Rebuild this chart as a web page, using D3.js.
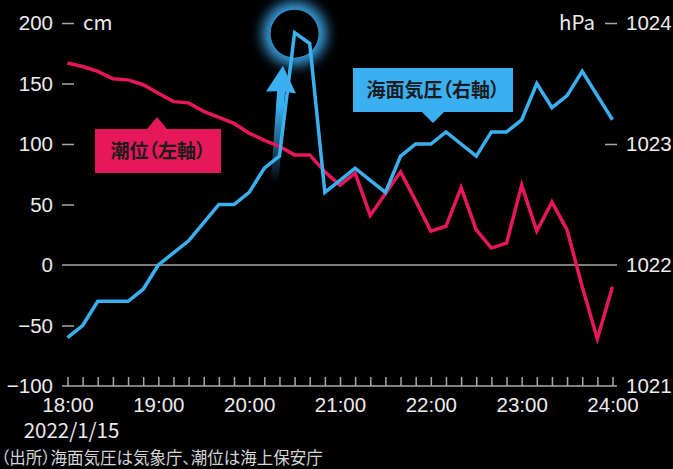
<!DOCTYPE html>
<html>
<head>
<meta charset="utf-8">
<script src="https://cdn.jsdelivr.net/npm/d3@7"></script>
<style>
  html, body { margin: 0; padding: 0; background: #000; }
  svg { display: block; font-family: "Noto Sans CJK JP", "Noto Sans", sans-serif; }
</style>
</head>
<body>
<div id="chart"></div>
<script>
// time of each reading (10 min steps, 2022/1/15)
var times = ["18:00","18:10","18:20","18:30","18:40","18:50",
             "19:00","19:10","19:20","19:30","19:40","19:50",
             "20:00","20:10","20:20","20:30","20:40","20:50",
             "21:00","21:10","21:20","21:30","21:40","21:50",
             "22:00","22:10","22:20","22:30","22:40","22:50",
             "23:00","23:10","23:20","23:30","23:40","23:50","24:00"];

// 潮位 (cm, left axis)
var tide = [167, 164, 160, 154, 153, 149,
            142, 135, 134, 127, 122, 117,
            109, 103, 98, 91, 91, 77,
            66, 76, 41, 59, 77, 53,
            28, 32, 64, 29, 14, 18,
            66, 28, 52, 29, -18, -61, -18];

// 海面気圧 (hPa, right axis)
var pressure = [1021.4, 1021.5, 1021.7, 1021.7, 1021.7, 1021.8,
                1022.0, 1022.1, 1022.2, 1022.35, 1022.5, 1022.5,
                1022.6, 1022.8, 1022.9, 1023.92, 1023.83, 1022.6,
                1022.7, 1022.8, 1022.7, 1022.6, 1022.9, 1023.0,
                1023.0, 1023.1, 1023.0, 1022.9, 1023.1, 1023.1,
                1023.2, 1023.5, 1023.3, 1023.4, 1023.6, 1023.4, 1023.2];

var leftTicks = [-100, -50, 0, 50, 100, 150, 200];
var rightTicks = [1021, 1022, 1023, 1024];
var hourLabels = ["18:00","19:00","20:00","21:00","22:00","23:00","24:00"];

var width = 673, height = 469;
var red = "#e6175a", blue = "#3ab0f0", txt = "#ececec", grey = "#a8a8a8";
var fs = 20.5;

function toMin(t) {
    var p = t.split(":");
    return (+p[0] - 18) * 60 + (+p[1]);
}

var x = d3.scaleLinear().domain([0, 360]).range([67.5, 612.5]);
var yL = d3.scaleLinear().domain([-100, 200]).range([386, 23]);
var yR = d3.scaleLinear().domain([1021, 1024]).range([386, 23]);

var svg = d3.select("#chart").append("svg")
    .attr("width", width)
    .attr("height", height);

svg.append("rect").attr("width", width).attr("height", height).attr("fill", "#000");

var defs = svg.append("defs");
defs.append("filter").attr("id", "blur")
    .attr("x", "-100%").attr("y", "-100%").attr("width", "300%").attr("height", "300%")
    .append("feGaussianBlur").attr("stdDeviation", 7);

// zero line
svg.append("line")
    .attr("x1", 62).attr("x2", 617)
    .attr("y1", yL(0)).attr("y2", yL(0))
    .attr("stroke", grey).attr("stroke-width", 1.5);

// left axis
var gl = svg.append("g")
    .attr("transform", "translate(74,0)")
    .call(d3.axisLeft(yL).tickValues(leftTicks).tickSize(12).tickPadding(9));
gl.select(".domain").remove();
gl.selectAll(".tick line")
    .attr("stroke", grey).attr("stroke-width", 1.5)
    .attr("display", function(d) { return d == 0 || d == -100 ? "none" : null; });
gl.selectAll(".tick text").attr("fill", txt).attr("font-size", fs);
svg.append("text").attr("x", 83).attr("y", yL(200)).attr("dy", "0.32em")
    .attr("fill", txt).attr("font-size", fs).text("cm");

// right axis
var gr = svg.append("g")
    .attr("transform", "translate(605,0)")
    .call(d3.axisRight(yR).tickValues(rightTicks).tickSize(12).tickPadding(9)
        .tickFormat(d3.format("d")));
gr.select(".domain").remove();
gr.selectAll(".tick line")
    .attr("stroke", grey).attr("stroke-width", 1.5)
    .attr("display", function(d) { return d == 1022 || d == 1021 ? "none" : null; });
gr.selectAll(".tick text").attr("fill", txt).attr("font-size", fs);
svg.append("text").attr("x", 595).attr("y", yR(1024)).attr("dy", "0.32em")
    .attr("text-anchor", "end")
    .attr("fill", txt).attr("font-size", fs).text("hPa");

// bottom axis
var gb = svg.append("g")
    .attr("transform", "translate(0," + yL(-100) + ")")
    .call(d3.axisBottom(x)
        .tickValues(times.map(toMin))
        .tickSize(-9)
        .tickPadding(11)
        .tickFormat(function(d) {
            return d % 60 == 0 ? hourLabels[d / 60] : "";
        }));
gb.select(".domain").remove();
gb.append("line").attr("x1", 62).attr("x2", 617)
    .attr("stroke", grey).attr("stroke-width", 1.5);
gb.selectAll(".tick line").attr("stroke", grey).attr("stroke-width", 1.5);
gb.selectAll(".tick text").attr("fill", txt).attr("font-size", fs);

svg.append("text").attr("x", x(0) + 4).attr("y", 438)
    .attr("text-anchor", "middle")
    .attr("fill", txt).attr("font-size", fs).text("2022/1/15");

svg.append("text").attr("x", 1).attr("y", 464)
    .attr("fill", "#d6d6d6").attr("font-size", 16.5)
    .style("font-feature-settings", "'palt'")
    .text("（出所）海面気圧は気象庁、潮位は海上保安庁");

// glow ring round the pressure peak
var peakI = pressure.indexOf(d3.max(pressure));
var pcx = x(toMin(times[peakI])), pcy = yR(pressure[peakI]) + 1;
svg.append("circle").attr("cx", pcx).attr("cy", pcy).attr("r", 31)
    .attr("fill", "#2f9fe8").attr("filter", "url(#blur)");
svg.append("circle").attr("cx", pcx).attr("cy", pcy).attr("r", 25.5)
    .attr("fill", "none").attr("stroke", "#8ad6ff").attr("stroke-width", 2.5)
    .attr("stroke-opacity", 0.8).attr("filter", "url(#blur)");
svg.append("circle").attr("cx", pcx).attr("cy", pcy).attr("r", 24)
    .attr("fill", "#000");

// rising arrow
var ax = x(toMin("20:15")) + 3, aTop = yL(165), aBot = yL(70);
var fadeU = defs.append("linearGradient").attr("id", "fadeU")
    .attr("gradientUnits", "userSpaceOnUse")
    .attr("x1", 0).attr("y1", aTop).attr("x2", 0).attr("y2", aBot);
fadeU.append("stop").attr("offset", "0").attr("stop-color", blue);
fadeU.append("stop").attr("offset", "0.35").attr("stop-color", blue);
fadeU.append("stop").attr("offset", "1").attr("stop-color", blue).attr("stop-opacity", 0.05);
var arrow = svg.append("g")
    .attr("transform", "rotate(4," + ax + "," + aBot + ")");
arrow.append("path")
    .attr("d", "M" + (ax - 4) + "," + aBot +
        "L" + (ax - 4) + "," + (aTop + 26) +
        "L" + (ax - 15) + "," + (aTop + 27) +
        "L" + ax + "," + aTop +
        "L" + (ax + 15) + "," + (aTop + 27) +
        "L" + (ax + 4) + "," + (aTop + 26) +
        "L" + (ax + 4) + "," + aBot + "Z")
    .attr("fill", "url(#fadeU)");

// lines
var lineL = d3.line()
    .x(function(d, i) { return x(toMin(times[i])); })
    .y(function(d) { return yL(d); });
var lineR = d3.line()
    .x(function(d, i) { return x(toMin(times[i])); })
    .y(function(d) { return yR(d); });

svg.append("path").datum(tide)
    .attr("d", lineL)
    .attr("fill", "none").attr("stroke", red)
    .attr("stroke-width", 3.5).attr("stroke-linejoin", "miter");

svg.append("path").datum(pressure)
    .attr("d", lineR)
    .attr("fill", "none").attr("stroke", blue)
    .attr("stroke-width", 3.5).attr("stroke-linejoin", "miter");

// label boxes
function labelBox(x0, y0, w, h, px, tip, fill, label) {
    var d;
    if (tip < y0) {
        d = "M" + x0 + "," + y0 + "H" + (px - 10) + "L" + px + "," + tip +
            "L" + (px + 10) + "," + y0 + "H" + (x0 + w) + "V" + (y0 + h) + "H" + x0 + "Z";
    } else {
        d = "M" + x0 + "," + y0 + "H" + (x0 + w) + "V" + (y0 + h) +
            "H" + (px + 11) + "L" + px + "," + tip + "L" + (px - 11) + "," + (y0 + h) +
            "H" + x0 + "Z";
    }
    svg.append("path").attr("d", d).attr("fill", fill);
    svg.append("text")
        .attr("x", x0 + w / 2).attr("y", y0 + h / 2).attr("dy", "0.36em")
        .attr("text-anchor", "middle")
        .attr("fill", "#1c1c1c").attr("font-size", 19).attr("font-weight", "bold")
        .style("font-feature-settings", "'palt'")
        .text(label);
}
labelBox(95, 129, 126, 44, 157, 117, red, "潮位（左軸）");
labelBox(353, 68, 160, 44, 433, 123, blue, "海面気圧（右軸）");
</script>
</body>
</html>
